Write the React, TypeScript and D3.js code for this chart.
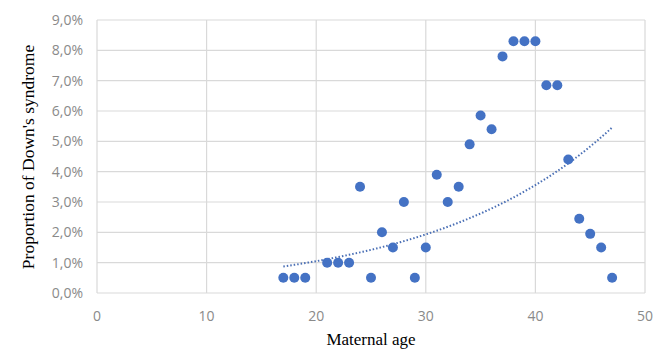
import React, { FC } from 'react';
import * as d3 from 'd3';

// maternal age and proportion (%)
const ages: number[] = [17, 18, 19, 21, 22, 23, 24, 25, 26, 27, 28, 29, 30, 31, 32, 33, 34, 35, 36, 37, 38, 39, 40, 41, 42, 43, 44, 45, 46, 47];
const proportions: number[] = [0.5, 0.5, 0.5, 1.0, 1.0, 1.0, 3.5, 0.5, 2.0, 1.5, 3.0, 0.5, 1.5, 3.9, 3.0, 3.5, 4.9, 5.85, 5.4, 7.8, 8.3, 8.3, 8.3, 6.85, 6.85, 4.4, 2.45, 1.95, 1.5, 0.5];
const xTicks: number[] = [0, 10, 20, 30, 40, 50];
const yTicks: number[] = [0, 1, 2, 3, 4, 5, 6, 7, 8, 9];

type Margin = { left: number; top: number; right: number; bottom: number };

/* Excel-style exponential trendline: regression on ln(y) */
const expFit = (xs: number[], ys: number[]) => {
  const ly = ys.map((v) => Math.log(v));
  const mx = d3.mean(xs) as number;
  const my = d3.mean(ly) as number;
  let num = 0;
  let den = 0;
  xs.forEach((x, i) => {
    num += (x - mx) * (ly[i] - my);
    den += (x - mx) * (x - mx);
  });
  const b = num / den;
  const a = Math.exp(my - b * mx);
  return (x: number) => a * Math.exp(b * x);
};

const App: FC = () => {
  const width = 665;
  const height = 349;
  const margin: Margin = { left: 97, top: 20, right: 20, bottom: 56 };

  const x = d3.scaleLinear().domain([0, 50]).range([margin.left, width - margin.right]);
  const y = d3.scaleLinear().domain([0, 9]).range([height - margin.bottom, margin.top]);

  const trend = expFit(ages, proportions);
  const [xMin, xMax] = d3.extent(ages) as [number, number];
  const trendPts: [number, number][] = d3.range(xMin, xMax + 0.01, 0.25).map((a) => [a, trend(a)]);
  const line = d3
    .line<[number, number]>()
    .x((d) => x(d[0]))
    .y((d) => y(d[1]));

  const tickFont = '"Open Sans", sans-serif';
  const titleFont = '"Times New Roman", "Liberation Serif", serif';

  return (
    <svg width={width} height={height} style={{ position: 'absolute', left: 0, top: 0 }}>
      <rect width={width} height={height} fill="#fff" />
      <g id="grid">
        {yTicks.map((t) => (
          <line key={'gy' + t} x1={x(0)} x2={x(50)} y1={y(t)} y2={y(t)} stroke="#d9d9d9" strokeWidth={1.2} />
        ))}
        {xTicks.map((t) => (
          <line key={'gx' + t} x1={x(t)} x2={x(t)} y1={y(0)} y2={y(9)} stroke="#d9d9d9" strokeWidth={1.2} />
        ))}
      </g>
      <g id="y-ticks" fontFamily={tickFont} fontSize={14} fill="#8a8a8a">
        {yTicks.map((t) => (
          <text key={'ty' + t} x={x(0) - 14} y={y(t)} dy="0.35em" textAnchor="end">
            {t.toFixed(1).replace('.', ',') + '%'}
          </text>
        ))}
      </g>
      <g id="x-ticks" fontFamily={tickFont} fontSize={14} fill="#8a8a8a">
        {xTicks.map((t) => (
          <text key={'tx' + t} x={x(t)} y={y(0) + 28} textAnchor="middle">
            {t}
          </text>
        ))}
      </g>
      <path d={line(trendPts) || ''} fill="none" stroke="#4a6fb5" strokeWidth={2} strokeDasharray="1.5 2" strokeLinecap="butt" />
      <g id="points">
        {ages.map((a, i) => (
          <circle key={a} cx={x(a)} cy={y(proportions[i])} r={5} fill="#4472c4" />
        ))}
      </g>
      <text
        transform={`translate(34, 157) rotate(-90)`}
        textAnchor="middle"
        fontFamily={titleFont}
        fontSize={17.5}
        fill="#000"
      >
        Proportion of Down's syndrome
      </text>
      <text x={(x(0) + x(50)) / 2} y={345} textAnchor="middle" fontFamily={titleFont} fontSize={17} fill="#000">
        Maternal age
      </text>
    </svg>
  );
};

export default App;
